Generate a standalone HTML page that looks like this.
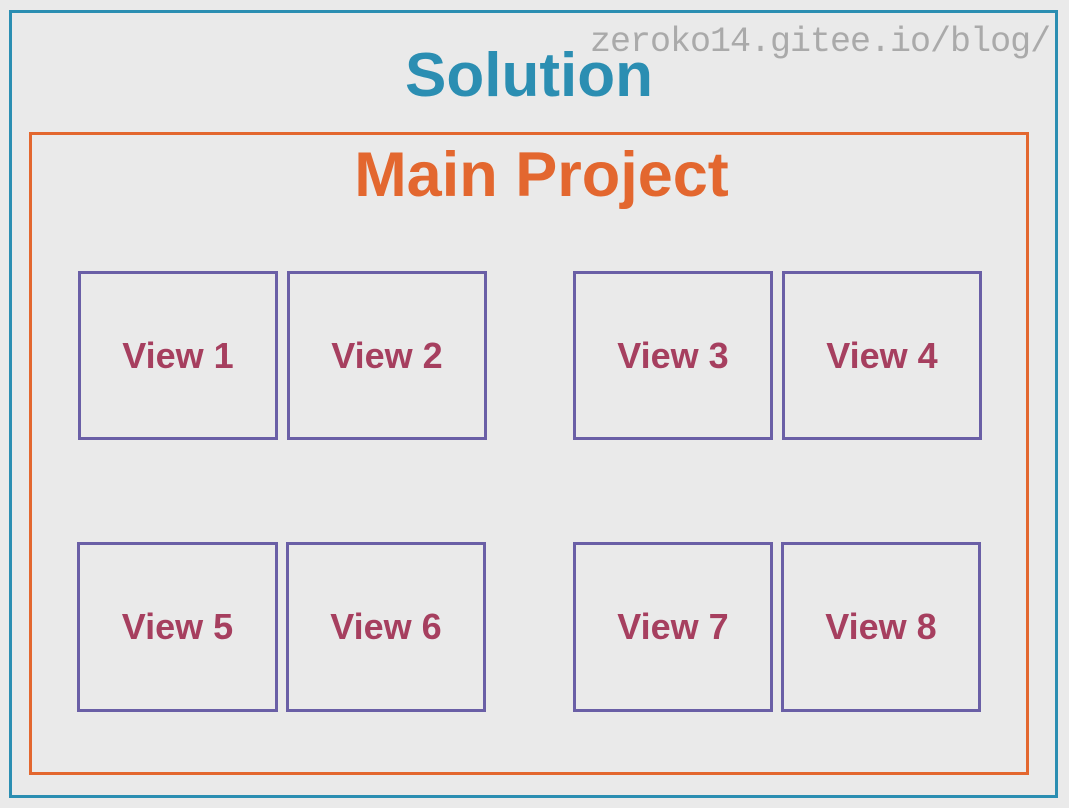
<!DOCTYPE html>
<html><head><meta charset="utf-8"><style>
body{margin:0;width:1069px;height:808px;background:#eaeaea;position:relative;overflow:hidden;font-family:"Liberation Sans",sans-serif}
.b{position:absolute;box-sizing:border-box}
.sol{left:9px;top:10px;width:1049px;height:788px;border:3px solid #2b8eb2}
.mp{left:29px;top:132px;width:1000px;height:643px;border:3px solid #e3672f}
.v{border:3.5px solid #6a5fa6;display:flex;align-items:center;justify-content:center;color:#a63f5f;font-weight:bold;font-size:36px}
.t{position:absolute;white-space:nowrap;font-weight:bold}
</style></head><body>
<div class="b sol"></div>
<div class="b mp"></div>
<div class="t" style="left:0;width:1058px;text-align:center;top:40px;font-size:62px;color:#2b8eb2">Solution</div>
<div class="t" style="left:0;width:1083px;text-align:center;top:139px;font-size:63px;color:#e3672f">Main Project</div>
<div class="t" style="left:590px;top:22px;font-size:35px;font-weight:normal;font-family:'Liberation Mono',monospace;color:#aaaaaa;letter-spacing:-1px">zeroko14.gitee.io/blog/</div>
<div class="b v" style="left:78px;top:271px;width:200px;height:169px">View 1</div>
<div class="b v" style="left:287px;top:271px;width:200px;height:169px">View 2</div>
<div class="b v" style="left:573px;top:271px;width:200px;height:169px">View 3</div>
<div class="b v" style="left:782px;top:271px;width:200px;height:169px">View 4</div>
<div class="b v" style="left:77px;top:542px;width:201px;height:170px">View 5</div>
<div class="b v" style="left:286px;top:542px;width:200px;height:170px">View 6</div>
<div class="b v" style="left:573px;top:542px;width:200px;height:170px">View 7</div>
<div class="b v" style="left:781px;top:542px;width:200px;height:170px">View 8</div>
</body></html>
